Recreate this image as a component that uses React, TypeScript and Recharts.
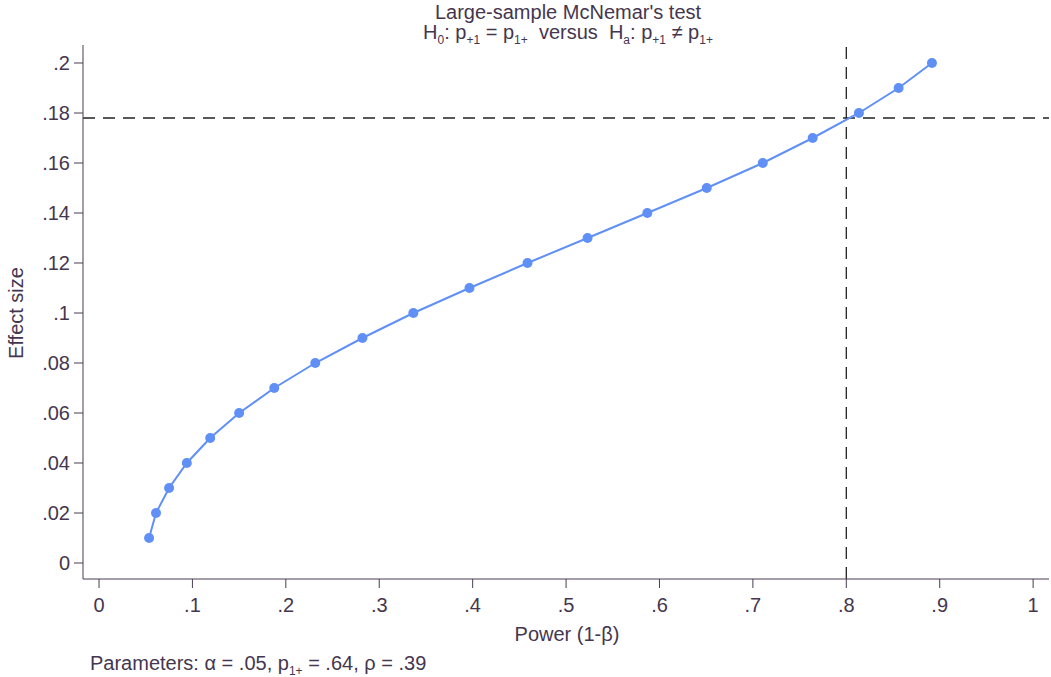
import React from "react";
import { LineChart, Line, XAxis, YAxis, ReferenceLine } from "recharts";

const powerValues = [0.0536, 0.061, 0.075, 0.094, 0.119, 0.15, 0.1876, 0.2315, 0.282, 0.3365, 0.3966, 0.4587, 0.523, 0.587, 0.6506, 0.7106, 0.764, 0.8135, 0.856, 0.8917];
const effectSizes = [0.01, 0.02, 0.03, 0.04, 0.05, 0.06, 0.07, 0.08, 0.09, 0.1, 0.11, 0.12, 0.13, 0.14, 0.15, 0.16, 0.17, 0.18, 0.19, 0.2];
const xTicks = [0, 0.1, 0.2, 0.3, 0.4, 0.5, 0.6, 0.7, 0.8, 0.9, 1];
const yTicks = [0, 0.02, 0.04, 0.06, 0.08, 0.1, 0.12, 0.14, 0.16, 0.18, 0.2];
const targetPower = 0.8;
const targetEffect = 0.178;

const data = powerValues.map((p, i) => ({ power: p, effect: effectSizes[i] }));

const fmt = (v: number) => {
  if (v === 0) return "0";
  if (v === 1) return "1";
  const s = String(Math.round(v * 1000) / 1000);
  return s.startsWith("0") ? s.slice(1) : s;
};

const TXT = "#45364f";
const AX = "#4a3d50";
const FONT = "'Liberation Sans', Arial, sans-serif";
const SUB = { fontSize: 12 };

export default function App() {
  return (
    <div style={{ position: "absolute", left: 0, top: 0, width: 1051, height: 677, background: "#fff", fontFamily: FONT, color: TXT }}>
      <LineChart width={1051} height={677} data={data} margin={{ top: 45, right: 2, bottom: 0, left: 0 }}>
        <XAxis
          type="number"
          dataKey="power"
          domain={[-0.01715, 1.017]}
          ticks={xTicks}
          tickFormatter={fmt}
          allowDataOverflow
          height={98}
          stroke={AX}
          tickLine={{ stroke: AX }}
          tickSize={9}
          tickMargin={10}
          tick={{ fill: TXT, fontSize: 20, fontFamily: FONT }}
        />
        <YAxis
          type="number"
          dataKey="effect"
          domain={[-0.0064, 0.2072]}
          ticks={yTicks}
          tickFormatter={fmt}
          allowDataOverflow
          width={83}
          stroke={AX}
          tickLine={{ stroke: AX }}
          tickSize={9}
          tickMargin={4}
          tick={{ fill: TXT, fontSize: 20, fontFamily: FONT }}
        />
        <ReferenceLine x={targetPower} stroke="#222" strokeWidth={1.3} strokeDasharray="12 8" />
        <ReferenceLine y={targetEffect} stroke="#222" strokeWidth={1.3} strokeDasharray="12 8" />
        <Line
          type="linear"
          dataKey="effect"
          stroke="#6090f5"
          strokeWidth={2}
          dot={{ r: 5, fill: "#6090f5", stroke: "#6090f5", strokeWidth: 0 }}
          isAnimationActive={false}
        />
      </LineChart>
      <div style={{ position: "absolute", left: 0, width: 1136, top: 2, textAlign: "center", fontSize: 20, lineHeight: "20px" }}>
        <div>Large-sample McNemar's test</div>
        <div>
          H<sub style={SUB}>0</sub>: p<sub style={SUB}>+1</sub> = p<sub style={SUB}>1+</sub>&nbsp; versus&nbsp; H<sub style={SUB}>a</sub>: p<sub style={SUB}>+1</sub> ≠ p<sub style={SUB}>1+</sub>
        </div>
      </div>
      <div style={{ position: "absolute", left: 16, top: 313, transform: "translate(-50%, -50%) rotate(-90deg)", fontSize: 20, whiteSpace: "nowrap" }}>
        Effect size
      </div>
      <div style={{ position: "absolute", left: 567, top: 634, transform: "translate(-50%, -50%)", fontSize: 20, whiteSpace: "nowrap" }}>
        Power (1-β)
      </div>
      <div style={{ position: "absolute", left: 90, top: 665, transform: "translateY(-50%)", fontSize: 20, whiteSpace: "nowrap" }}>
        Parameters: α = .05, p<sub style={SUB}>1+</sub> = .64, ρ = .39
      </div>
    </div>
  );
}
